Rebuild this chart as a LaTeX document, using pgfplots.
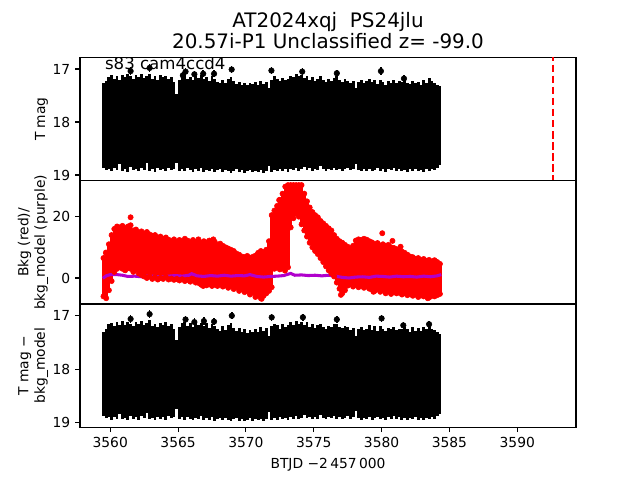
\documentclass[border=0pt]{standalone}
\usepackage{pgfplots}
\usepackage{pgfplotstable}
\pgfplotsset{compat=1.18}
\usepackage{fontspec}
\setmainfont{DejaVu Sans}
\definecolor{bkgpurple}{HTML}{B000CC}

% top panel: T mag, upper (u) and lower (l) ends of the dense error-bar block
\pgfplotstableread{
x u l
3559.5 17.27 18.86
3559.7 17.22 18.90
3559.9 17.15 18.88
3560.1 17.12 18.93
3560.3 17.18 18.87
3560.5 17.13 18.91
3560.7 17.20 18.80
3560.9 17.11 18.92
3561.1 17.16 18.89
3561.3 17.10 18.94
3561.5 17.14 18.85
3561.7 17.19 18.91
3561.9 17.12 18.88
3562.1 17.15 18.93
3562.3 17.09 18.86
3562.5 17.17 18.90
3562.7 17.13 18.78
3562.9 17.10 18.92
3563.1 17.18 18.89
3563.3 17.14 18.94
3563.5 17.20 18.87
3563.7 17.12 18.91
3563.9 17.16 18.88
3564.1 17.13 18.93
3564.3 17.19 18.86
3564.5 17.15 18.90
3564.7 17.24 18.89
3564.9 17.48 18.77
3565.1 17.20 18.92
3565.3 17.14 18.88
3565.5 17.11 18.93
3565.7 17.18 18.87
3565.9 17.15 18.91
3566.1 17.20 18.95
3566.3 17.13 18.89
3566.5 17.17 18.92
3566.7 17.12 18.86
3566.9 17.19 18.94
3567.1 17.15 18.90
3567.3 17.22 18.93
3567.5 17.14 18.88
3567.7 17.18 18.95
3567.9 17.24 18.91
3568.1 17.27 18.89
3568.3 17.21 18.94
3568.5 17.26 18.90
3568.7 17.19 18.93
3568.9 17.15 18.96
3569.1 17.22 18.92
3569.3 17.28 18.89
3569.5 17.24 18.95
3569.7 17.30 18.91
3569.9 17.26 18.97
3570.1 17.31 18.93
3570.3 17.27 18.90
3570.5 17.29 18.95
3570.7 17.25 18.92
3570.9 17.30 18.94
3571.1 17.22 18.91
3571.3 17.28 18.96
3571.5 17.24 18.92
3571.7 17.36 18.83
3571.9 17.20 18.95
3572.1 17.14 18.90
3572.3 17.19 18.93
3572.5 17.23 18.88
3572.7 17.17 18.92
3572.9 17.21 18.89
3573.1 17.18 18.94
3573.3 17.13 18.88
3573.5 17.16 18.91
3573.7 17.10 18.86
3573.9 17.14 18.92
3574.1 17.12 18.89
3574.3 17.17 18.85
3574.5 17.13 18.90
3574.7 17.20 18.87
3574.9 17.16 18.92
3575.1 17.22 18.88
3575.3 17.18 18.91
3575.5 17.14 18.84
3575.7 17.21 18.89
3575.9 17.25 18.92
3576.1 17.19 18.88
3576.3 17.23 18.90
3576.5 17.17 18.86
3576.7 17.14 18.91
3576.9 17.20 18.88
3577.1 17.24 18.92
3577.3 17.18 18.89
3577.5 17.22 18.86
3577.7 17.26 18.91
3577.9 17.22 18.88
3578.1 17.36 18.80
3578.3 17.25 18.90
3578.5 17.21 18.93
3578.7 17.27 18.89
3578.9 17.23 18.92
3579.1 17.19 18.88
3579.3 17.25 18.93
3579.5 17.21 18.90
3579.7 17.28 18.87
3579.9 17.20 18.92
3580.1 17.24 18.89
3580.3 17.30 18.94
3580.5 17.22 18.88
3580.7 17.26 18.91
3580.9 17.21 18.86
3581.1 17.27 18.92
3581.3 17.23 18.88
3581.5 17.25 18.93
3581.7 17.20 18.90
3581.9 17.26 18.94
3582.1 17.29 18.89
3582.3 17.22 18.92
3582.5 17.27 18.88
3582.7 17.24 18.93
3582.9 17.30 18.90
3583.1 17.21 18.94
3583.3 17.26 18.89
3583.5 17.17 18.92
3583.7 17.23 18.88
3583.9 17.27 18.91
3584.1 17.31 18.86
3584.3 17.33 18.82
}\tmagA

\pgfplotstableread{
x y
3561.5 17.04
3562.9 16.98
3565.35 17.12
3565.55 17.05
3566.2 17.10
3566.85 17.09
3567.65 17.09
3568.95 17.01
3571.88 17.03
3574.15 17.05
3576.7 17.08
3579.95 17.04
3581.65 17.18
}\tmagAout

% bottom panel: T mag - bkg_model
\pgfplotstableread{
x u l
3559.5 17.30 18.88
3559.7 17.24 18.92
3559.9 17.16 18.90
3560.1 17.13 18.95
3560.3 17.20 18.89
3560.5 17.12 18.93
3560.7 17.18 18.84
3560.9 17.10 18.94
3561.1 17.17 18.91
3561.3 17.12 18.96
3561.5 17.15 18.88
3561.7 17.20 18.93
3561.9 17.11 18.90
3562.1 17.16 18.95
3562.3 17.10 18.88
3562.5 17.18 18.92
3562.7 17.14 18.83
3562.9 17.08 18.94
3563.1 17.19 18.91
3563.3 17.15 18.96
3563.5 17.21 18.89
3563.7 17.13 18.93
3563.9 17.17 18.90
3564.1 17.12 18.95
3564.3 17.20 18.88
3564.5 17.16 18.92
3564.7 17.25 18.90
3564.9 17.46 18.74
3565.1 17.21 18.94
3565.3 17.13 18.90
3565.5 17.12 18.95
3565.7 17.19 18.89
3565.9 17.14 18.93
3566.1 17.21 18.96
3566.3 17.12 18.91
3566.5 17.18 18.94
3566.7 17.13 18.88
3566.9 17.20 18.96
3567.1 17.14 18.92
3567.3 17.23 18.95
3567.5 17.15 18.90
3567.7 17.19 18.97
3567.9 17.25 18.93
3568.1 17.28 18.91
3568.3 17.20 18.96
3568.5 17.27 18.92
3568.7 17.18 18.95
3568.9 17.14 18.97
3569.1 17.23 18.94
3569.3 17.29 18.91
3569.5 17.23 18.97
3569.7 17.31 18.93
3569.9 17.25 18.98
3570.1 17.32 18.95
3570.3 17.26 18.92
3570.5 17.30 18.97
3570.7 17.24 18.94
3570.9 17.31 18.96
3571.1 17.21 18.93
3571.3 17.29 18.97
3571.5 17.23 18.94
3571.7 17.38 18.80
3571.9 17.19 18.96
3572.1 17.15 18.92
3572.3 17.18 18.95
3572.5 17.24 18.90
3572.7 17.16 18.94
3572.9 17.22 18.91
3573.1 17.17 18.96
3573.3 17.12 18.90
3573.5 17.17 18.93
3573.7 17.09 18.88
3573.9 17.15 18.94
3574.1 17.11 18.91
3574.3 17.18 18.87
3574.5 17.12 18.92
3574.7 17.21 18.89
3574.9 17.15 18.94
3575.1 17.23 18.90
3575.3 17.17 18.93
3575.5 17.15 18.86
3575.7 17.22 18.91
3575.9 17.24 18.94
3576.1 17.20 18.90
3576.3 17.22 18.92
3576.5 17.16 18.88
3576.7 17.15 18.93
3576.9 17.21 18.90
3577.1 17.23 18.94
3577.3 17.19 18.91
3577.5 17.21 18.88
3577.7 17.27 18.93
3577.9 17.23 18.90
3578.1 17.38 18.78
3578.3 17.24 18.92
3578.5 17.22 18.95
3578.7 17.26 18.91
3578.9 17.24 18.94
3579.1 17.18 18.90
3579.3 17.26 18.95
3579.5 17.20 18.92
3579.7 17.29 18.89
3579.9 17.19 18.94
3580.1 17.25 18.91
3580.3 17.29 18.96
3580.5 17.23 18.90
3580.7 17.25 18.93
3580.9 17.22 18.88
3581.1 17.26 18.94
3581.3 17.24 18.90
3581.5 17.24 18.95
3581.7 17.21 18.92
3581.9 17.25 18.96
3582.1 17.30 18.91
3582.3 17.21 18.94
3582.5 17.28 18.90
3582.7 17.23 18.95
3582.9 17.29 18.92
3583.1 17.22 18.96
3583.3 17.25 18.91
3583.5 17.16 18.94
3583.7 17.24 18.90
3583.9 17.26 18.93
3584.1 17.30 18.88
3584.3 17.34 18.84
}\tmagB

\pgfplotstableread{
x y
3561.5 17.06
3562.9 16.97
3565.55 17.07
3566.2 17.12
3566.9 17.10
3567.65 17.11
3568.96 17.00
3571.9 17.03
3574.2 17.03
3576.7 17.07
3580.0 17.05
3581.6 17.18
3583.5 17.16
}\tmagBout

% middle panel: background (red band, lo..hi)
\pgfplotstableread{
x lo hi
3559.5 -6.0 6.5
3559.7 -6.6 8.0
3559.9 -4.0 11.0
3560.1 -1.0 14.0
3560.3 2.0 16.0
3560.5 3.0 16.8
3560.7 3.5 16.5
3560.9 3.0 17.0
3561.1 2.5 16.2
3561.3 3.2 16.8
3561.5 3.0 17.2
3561.7 2.0 15.5
3561.9 2.8 15.8
3562.1 1.5 14.8
3562.3 1.0 15.2
3562.5 0.5 14.5
3562.7 0.0 15.0
3562.9 0.5 14.2
3563.1 -0.3 13.8
3563.3 0.2 14.0
3563.5 -0.5 13.2
3563.7 0.0 13.5
3563.9 -0.3 12.8
3564.1 0.3 13.2
3564.3 -0.5 12.5
3564.5 -0.2 12.0
3564.7 -0.6 12.6
3564.9 -0.3 11.8
3565.1 -0.8 12.4
3565.3 -0.4 12.0
3565.5 -1.0 12.8
3565.7 -0.6 12.2
3565.9 -1.2 11.6
3566.1 -0.8 12.4
3566.3 -1.5 11.8
3566.5 -1.6 12.6
3566.7 -2.2 11.5
3566.9 -1.8 12.0
3567.1 -2.4 11.6
3567.3 -2.0 12.2
3567.5 -2.6 11.4
3567.7 -2.2 11.8
3567.9 -2.6 10.8
3568.1 -2.0 11.2
3568.3 -2.8 10.5
3568.5 -2.2 10.0
3568.7 -3.2 9.6
3568.9 -2.6 9.2
3569.1 -3.6 8.8
3569.3 -3.0 8.0
3569.5 -4.2 7.6
3569.7 -3.6 7.0
3569.9 -4.6 6.8
3570.1 -4.2 7.2
3570.3 -5.4 6.6
3570.5 -4.8 6.9
3570.7 -6.2 7.3
3570.9 -5.6 8.2
3571.1 -6.6 8.8
3571.3 -5.8 8.4
3571.5 -5.0 9.2
3571.7 -4.2 12.0
3571.9 -3.0 20.5
3572.1 3.0 22.0
3572.3 3.5 23.5
3572.5 2.8 25.5
3572.7 3.2 27.5
3572.9 3.8 29.8
3573.1 3.5 30.3
3573.3 16.5 30.3
3573.5 19.5 30.3
3573.7 21.0 30.3
3573.9 20.0 30.3
3574.1 17.5 30.3
3574.3 15.5 27.5
3574.5 13.5 25.0
3574.7 11.5 23.0
3574.9 10.0 21.5
3575.1 8.8 20.5
3575.3 7.8 19.8
3575.5 6.5 18.6
3575.7 5.2 17.8
3575.9 3.8 17.0
3576.1 2.5 16.2
3576.3 1.5 15.5
3576.5 0.5 14.0
3576.7 -1.5 12.8
3576.9 -3.5 12.0
3577.1 -5.0 11.5
3577.3 -4.0 10.8
3577.5 -2.5 10.2
3577.7 -2.0 9.6
3577.9 -2.8 10.5
3578.1 -2.2 12.2
3578.3 -3.0 12.6
3578.5 -2.5 12.4
3578.7 -3.2 12.8
3578.9 -2.8 12.5
3579.1 -3.5 12.0
3579.3 -3.8 11.6
3579.5 -4.2 11.0
3579.7 -3.6 11.4
3579.9 -4.5 10.6
3580.1 -4.0 11.0
3580.3 -5.0 10.4
3580.5 -4.4 10.8
3580.7 -5.2 10.0
3580.9 -4.6 9.8
3581.1 -5.0 9.4
3581.3 -4.8 9.0
3581.5 -5.4 8.6
3581.7 -5.0 8.2
3581.9 -5.6 7.6
3582.1 -5.2 7.0
3582.3 -5.8 6.8
3582.5 -5.4 6.2
3582.7 -6.2 6.5
3582.9 -5.6 5.8
3583.1 -6.0 6.2
3583.3 -5.4 5.6
3583.5 -6.4 5.9
3583.7 -5.8 5.4
3583.9 -6.0 5.8
3584.1 -5.6 5.2
3584.3 -5.2 4.6
}\bkgband

\pgfplotstableread{
x y
3559.68 8.3
3561.5 19.8
3561.75 2.4
3562.4 2.4
3563.8 12.9
3566.85 -2.6
3567.6 12.6
3568.62 -2.6
3571.16 -6.8
3572.0 20.2
3572.45 25.4
3572.88 2.4
3574.85 21.1
3577.0 -5.5
3577.06 -3.9
3579.4 -4.5
3580.05 14.6
3580.8 12.1
3581.4 10.2
3582.4 -4.2
3583.4 -6.6
}\bkgout

\pgfplotstableread{
x y
3559.45 -0.1
3559.7 0.7
3560.0 1.1
3560.5 1.1
3560.9 0.9
3561.3 0.5
3561.8 0.6
3562.3 0.4
3562.8 0.7
3563.3 0.5
3563.8 0.3
3564.3 0.6
3564.8 0.8
3565.3 0.6
3565.8 0.9
3566.0 1.4
3566.4 0.7
3566.9 0.5
3567.4 0.8
3567.9 0.6
3568.4 0.9
3568.9 0.6
3569.4 0.8
3569.9 0.7
3570.3 1.1
3570.8 0.5
3571.3 0.3
3571.8 0.5
3572.3 0.6
3572.8 0.8
3573.3 1.5
3573.6 0.9
3574.1 1.0
3574.6 0.8
3575.1 0.9
3575.6 0.7
3576.1 0.9
3576.6 0.6
3577.1 0.2
3577.6 0.0
3578.1 0.3
3578.6 0.4
3579.1 0.2
3579.6 0.6
3580.1 0.5
3580.6 0.3
3581.1 0.6
3581.6 0.4
3582.1 0.5
3582.6 0.3
3583.1 0.6
3583.6 0.4
3584.1 0.7
3584.4 1.1
}\bkgmodel

\pgfplotsset{
  panel/.style={
    scale only axis, width=357.12bp, height=88.704bp,
    xmin=3557.77, xmax=3594.33,
    anchor=south west,
    axis line style={line width=0.8bp},
    every tick/.style={black, line width=0.8bp},
    major tick length=3.5bp,
    tick align=outside,
    xtick pos=bottom, ytick pos=left,
    tick label style={font=\fontsize{10}{12}\selectfont},
    /pgf/number format/assume math mode=true,
    ylabel style={at={(axis description cs:-0.0637,0.5)}, anchor=south, inner sep=0pt, align=center, font=\fontsize{10}{12}\selectfont},
  },
  bars/.style={draw=none, mark=none,
    error bars/.cd, y dir=both, y explicit, error mark=none,
    error bar style={draw=#1, line width=2.1bp}},
}

\begin{document}
\begin{tikzpicture}
\path[use as bounding box] (0,0) rectangle (460.8bp,345.6bp);

% ---------------- top panel ----------------
\begin{axis}[panel, name=top, at={(57.6bp,215.424bp)},
  y dir=reverse, ymin=16.785, ymax=19.11, ytick={17,18,19},
  xtick=\empty,
  ylabel={T mag},
]
\addplot[bars=black] table[x=x, y expr={(\thisrow{u}+\thisrow{l})/2}, y error expr={(\thisrow{l}-\thisrow{u})/2}] {\tmagA};
\addplot[only marks, mark=*, mark size=2bp, black,
  error bars/.cd, y dir=both, y fixed=0.07, error mark=none, error bar style={black, line width=1bp}] table[x=x, y=y] {\tmagAout};
\addplot[red, line width=1.5bp, dash pattern=on 5.55bp off 2.4bp] coordinates {(3592.66,16.5) (3592.66,19.5)};
\node[anchor=base west, inner sep=0pt, font=\fontsize{12}{14.4}\selectfont] at (axis description cs:0.05,0.9) {s83 cam4ccd4};
\end{axis}
\node[anchor=base, inner sep=0pt, font=\fontsize{14.4}{17}\selectfont, yshift=21.8bp] at (top.north) {AT2024xqj\ \ PS24jlu};
\node[anchor=base, inner sep=0pt, font=\fontsize{14.4}{17}\selectfont, yshift=6.7bp] at (top.north) {20.57i-P1 Unclassified z= -99.0};

% ---------------- middle panel ----------------
\begin{axis}[panel, at={(57.6bp,126.72bp)},
  ymin=-8.48, ymax=31.7, ytick={0,20},
  xtick=\empty,
  ylabel={Bkg (red)/\\bkg\_model (purple)},
]
\addplot[draw=none, mark=none,
  error bars/.cd, y dir=both, y explicit, error mark=none,
  error bar style={draw=red, line width=2.3bp}] table[x=x, y expr={(\thisrow{lo}+\thisrow{hi})/2}, y error expr={(\thisrow{hi}-\thisrow{lo})/2}] {\bkgband};
\addplot[only marks, mark=*, mark size=1.9bp, red, mark options={draw=red, fill=red}] table[x=x, y=lo] {\bkgband};
\addplot[only marks, mark=*, mark size=1.9bp, red, mark options={draw=red, fill=red}] table[x=x, y=hi] {\bkgband};
\addplot[only marks, mark=*, mark size=1.9bp, red, mark options={draw=red, fill=red}] table[x=x, y=y] {\bkgout};
\addplot[bkgpurple, line width=2.2bp, no marks] table[x=x, y=y] {\bkgmodel};
\end{axis}

% ---------------- bottom panel ----------------
\begin{axis}[panel, at={(57.6bp,38.016bp)},
  y dir=reverse, ymin=16.78, ymax=19.09, ytick={17,18,19},
  xtick={3560,3565,3570,3575,3580,3585,3590},
  xticklabel style={/pgf/number format/1000 sep={}},
  ylabel={T mag −\\bkg\_model},
  xlabel={BTJD −2\,457\,000},
  xlabel style={at={(axis description cs:0.5,0)}, anchor=base, yshift=-29.4bp, inner sep=0pt, font=\fontsize{10}{12}\selectfont},
]
\addplot[bars=black] table[x=x, y expr={(\thisrow{u}+\thisrow{l})/2}, y error expr={(\thisrow{l}-\thisrow{u})/2}] {\tmagB};
\addplot[only marks, mark=*, mark size=2bp, black,
  error bars/.cd, y dir=both, y fixed=0.07, error mark=none, error bar style={black, line width=1bp}] table[x=x, y=y] {\tmagBout};
\end{axis}
\end{tikzpicture}
\end{document}
